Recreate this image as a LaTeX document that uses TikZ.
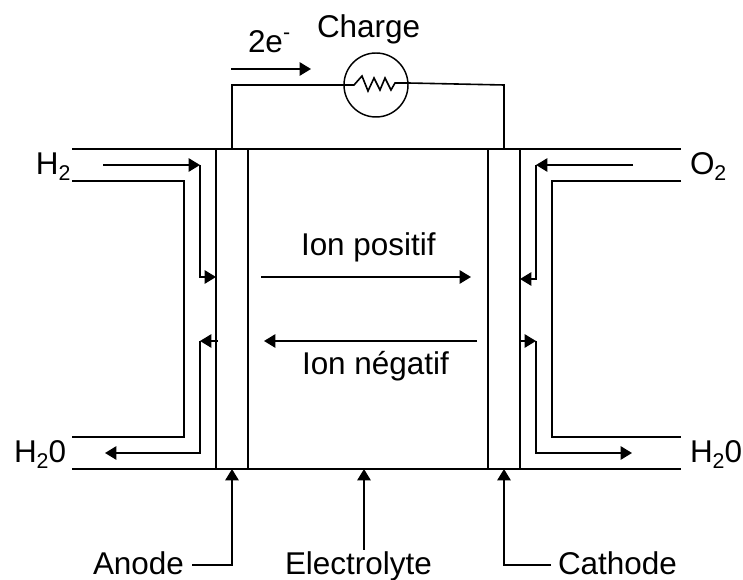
\documentclass[tikz,border=0pt]{standalone}
\usepackage{fontspec}
\setmainfont{Liberation Sans}
\usetikzlibrary{arrows.meta}
\newcommand{\lowtwo}{\raisebox{-4.5pt}{\fontsize{16pt}{17pt}\selectfont 2}}
\tikzset{
  wire/.style={draw=black,line width=1.2pt},
  flow/.style={wire,-{Triangle[length=8.5pt,width=10pt]}},
  label text/.style={anchor=base west,inner sep=0pt,outer sep=0pt,font=\fontsize{23.6pt}{25pt}\selectfont},
  plate/.style={draw=black,line width=1.2pt,minimum width=24pt,minimum height=240pt,inner sep=0pt,outer sep=0pt,fill=none}
}
\begin{document}
\begin{tikzpicture}[x=0.75pt,y=-0.75pt]
\useasboundingbox (0,0) rectangle (743,580);
% plates
\node[plate] (anode) at (232,309) {};
\node[plate] (cathode) at (504,309) {};
\node[draw=black,line width=1.1pt,circle,minimum size=48pt,inner sep=0pt,outer sep=0pt] (load) at (376,85) {};
% coordinates
\coordinate (tl) at (72,149); \coordinate (tr) at (681,149);
\coordinate (bl) at (72,469); \coordinate (br) at (681,469);
% channel outlines
\draw[wire] (tl) -- (tr);
\draw[wire] (bl) -- (br);
\draw[wire] (72,181) -- (184,181) -- (184,437) -- (72,437);
\draw[wire] (681,181) -- (552,181) -- (552,437) -- (681,437);
% flows left
\draw[flow] (103,165) -- (200,165);
\draw[flow] (200,165) -- (200,277) -- (216,277);
\draw[flow] (218,341) -- (200,341);
\draw[flow] (200,341) -- (200,453) -- (105,453);
% flows right
\draw[flow] (633,165) -- (536,165);
\draw[flow] (536,165) -- (536,279) -- (520,279);
\draw[flow] (520,341) -- (536,341);
\draw[flow] (536,341) -- (536,453) -- (632,453);
% circuit
\draw[wire] (anode.north) -- (232,85) -- (load.west);
\draw[wire] (load.west) -- (354,85) -- (362,76) -- (368,91) -- (374,78) -- (380,90) -- (385,78) -- (391,90) -- (395,83) -- (408,83) -- (504,85) -- (cathode.north);
\draw[flow] (231,69) -- (311,69);
% ion arrows
\draw[flow] (261,277) -- (471,277);
\draw[flow] (477,341) -- (264,341);
% labels
\node[label text] (h2) at (36,175) {H\lowtwo};
\node[label text] (o2) at (690,175) {O\lowtwo};
\node[label text] (h2ol) at (14,463) {H\lowtwo 0};
\node[label text] (h2or) at (690,463) {H\lowtwo 0};
\node[label text] (ee) at (248,53) {2e\raisebox{10pt}{\fontsize{16pt}{17pt}\selectfont -}};
\node[label text] (charge) at (317,38) {Charge};
\node[label text] (ionp) at (301,256) {Ion positif};
\node[label text] (ionn) at (302,375) {Ion négatif};
\node[label text] (lanode) at (93,575) {Anode};
\node[label text] (lelec) at (285,575) {Electrolyte};
\node[label text] (lcath) at (558,575) {Cathode};
% pointers
\coordinate (ca) at (232,565);
\coordinate (cc) at (504,565);
\draw[flow] (192,565) -- (ca) -- (anode.south);
\draw[flow] (364,550) -- (364,469);
\draw[flow] (551,565) -- (cc) -- (cathode.south);
\end{tikzpicture}
\end{document}
